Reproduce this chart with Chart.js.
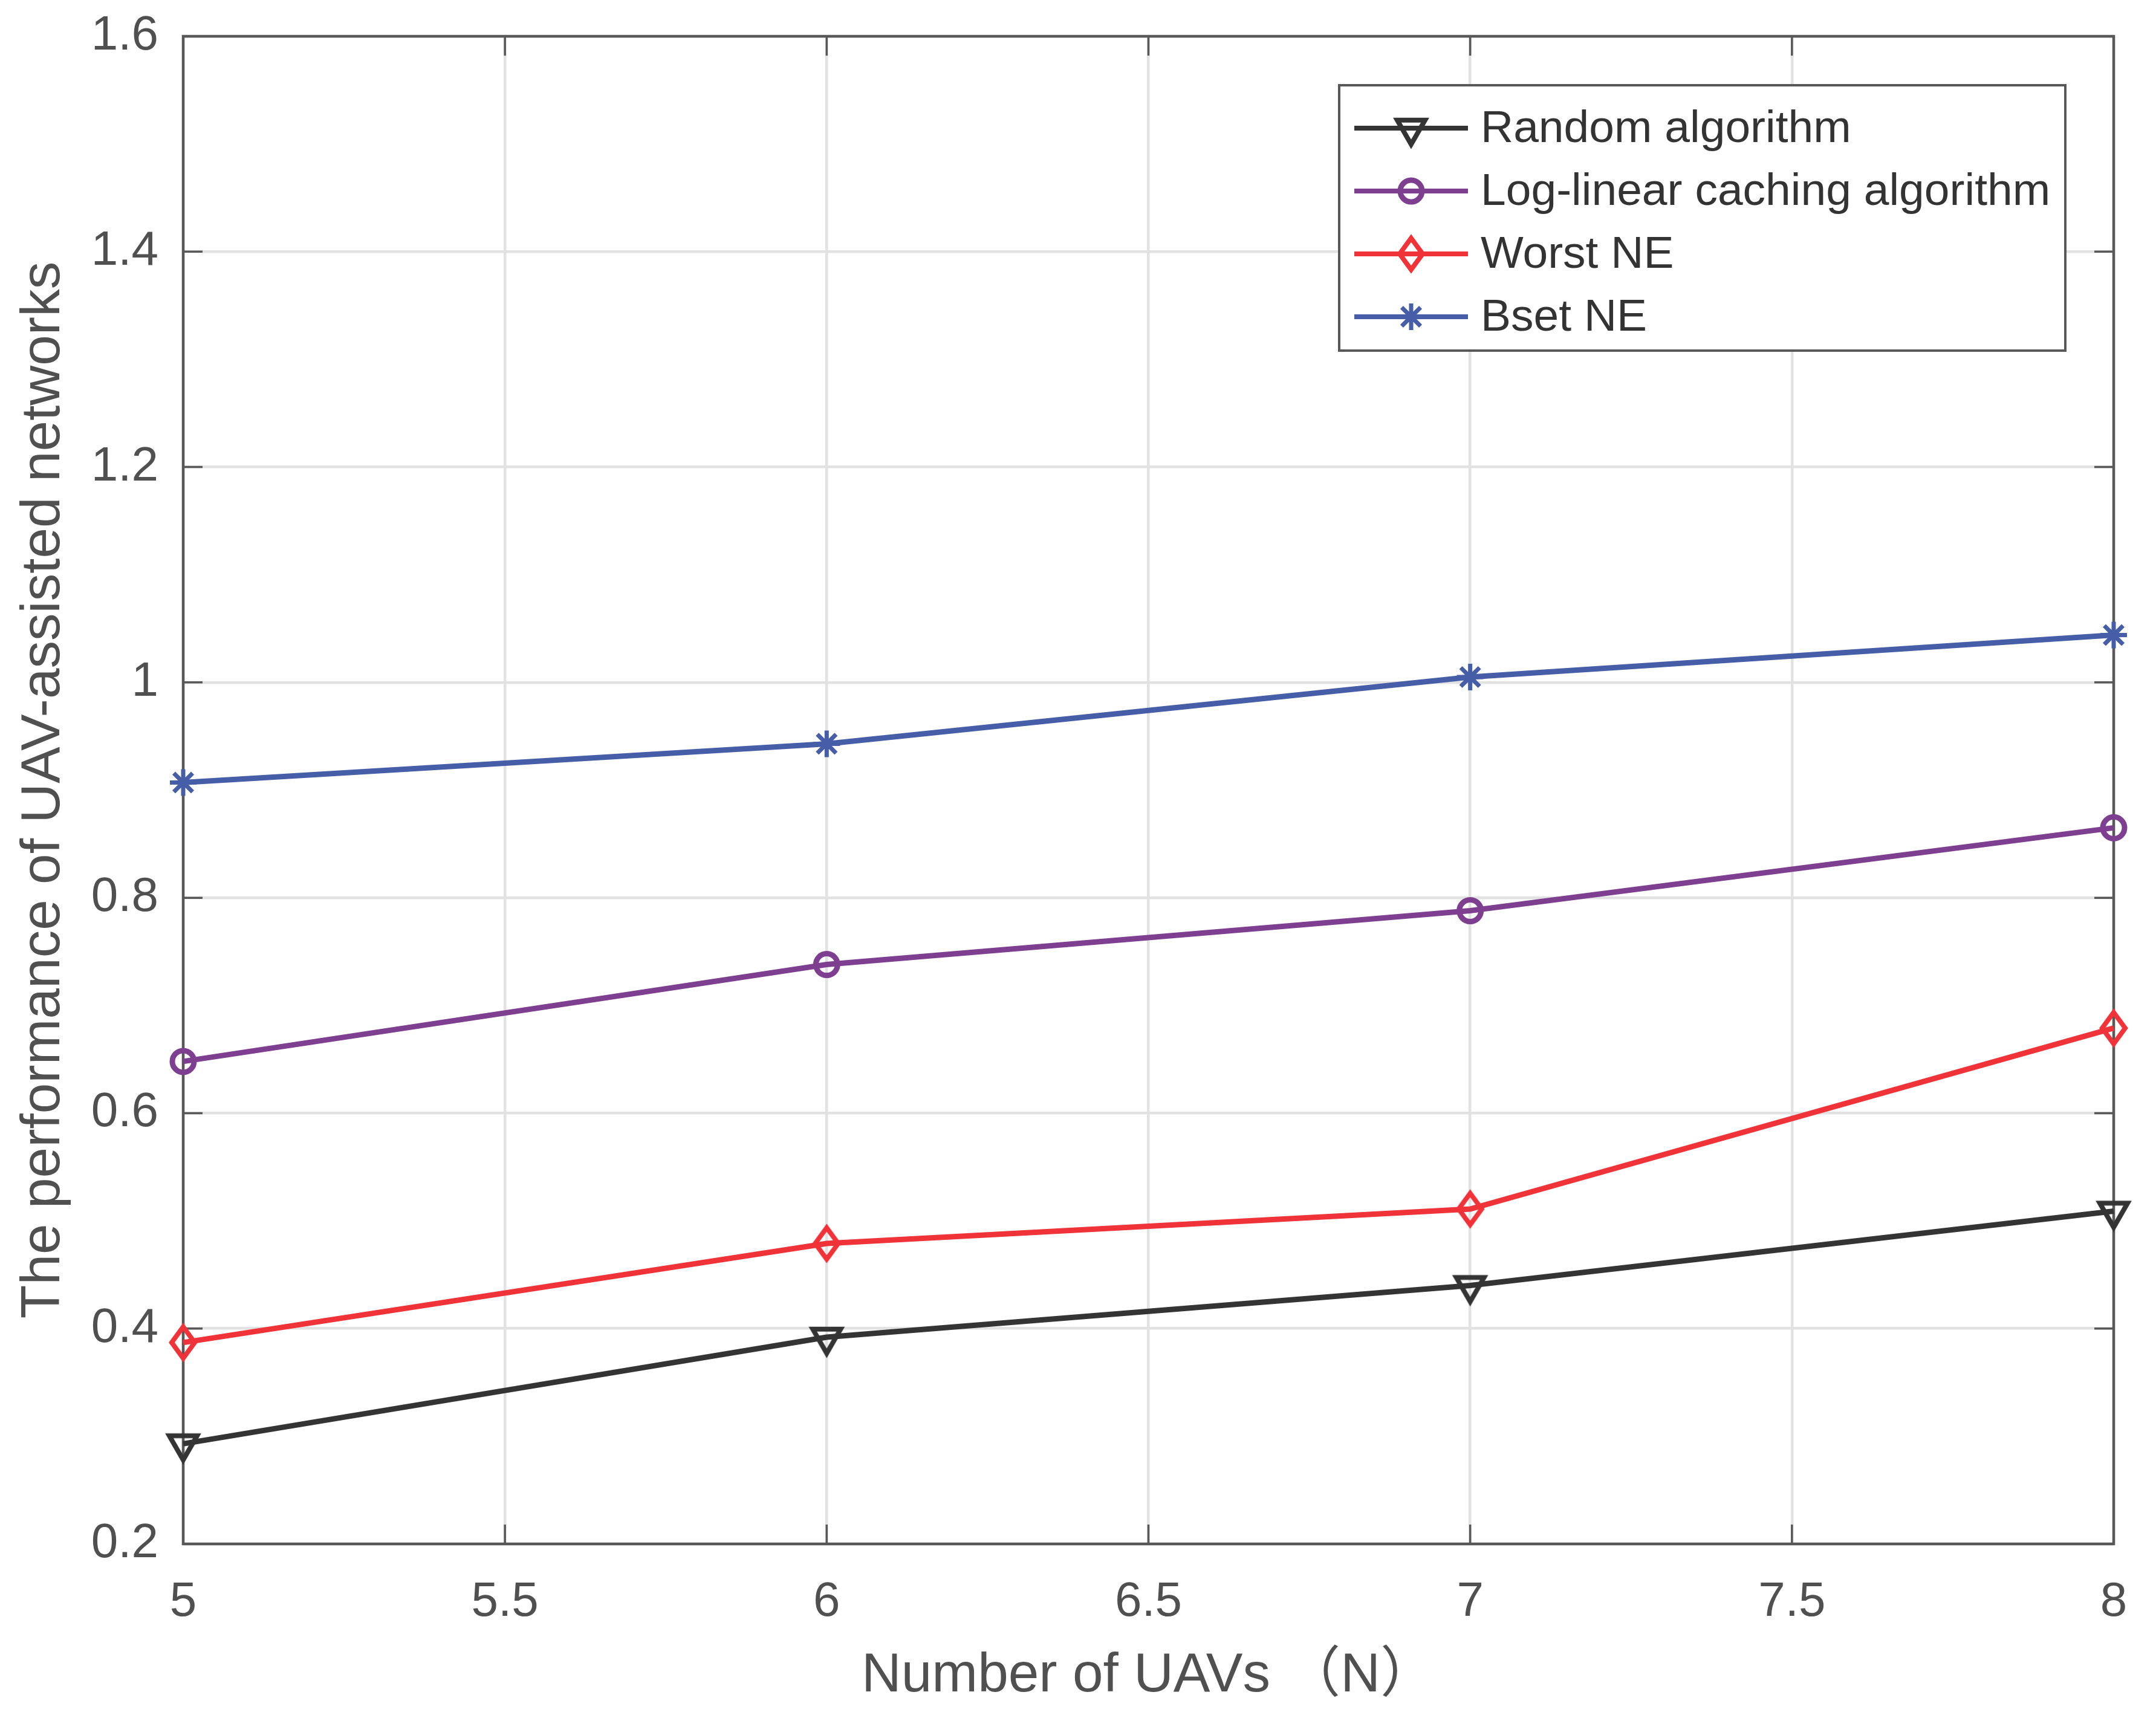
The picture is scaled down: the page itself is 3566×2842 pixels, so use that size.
<!DOCTYPE html>
<html>
<head>
<meta charset="utf-8">
<script src="https://cdn.jsdelivr.net/npm/chart.js@4.4.1/dist/chart.umd.min.js"></script>
<style>
  html, body { margin: 0; padding: 0; background: #fff; }
  canvas { display: block; }
</style>
</head>
<body>
<canvas id="uavChart" width="3566" height="2842" style="width:3566px;height:2842px"></canvas>
<script>
// values
const uavCounts = [5, 6, 7, 8];
const randomAlgorithm = [0.293, 0.392, 0.440, 0.509];
const logLinearCaching = [0.648, 0.738, 0.788, 0.865];
const worstNE = [0.387, 0.479, 0.511, 0.679];
const bestNE = [0.907, 0.943, 1.005, 1.044];

const xTickValues = [5, 5.5, 6, 6.5, 7, 7.5, 8];
const yTickValues = [0.2, 0.4, 0.6, 0.8, 1, 1.2, 1.4, 1.6];

const seriesNames = ['Random algorithm', 'Log-linear caching algorithm', 'Worst NE', 'Bset NE'];

const FONT = '"Liberation Sans", Arial, "Noto Sans CJK SC", sans-serif';

function makeMarker(kind, color) {
    const c = document.createElement('canvas');
    c.width = 90;
    c.height = 90;
    const g = c.getContext('2d');
    g.strokeStyle = color;
    g.lineWidth = 8;
    g.lineJoin = 'miter';
    g.translate(45, 45);
    g.beginPath();
    if (kind === 'down') {
        const w = 23, h = 40;
        g.moveTo(-w, -h / 3);
        g.lineTo(w, -h / 3);
        g.lineTo(0, 2 * h / 3);
    } else {
        g.moveTo(0, -26);
        g.lineTo(19, 0);
        g.lineTo(0, 26);
        g.lineTo(-19, 0);
    }
    g.closePath();
    g.stroke();
    return c;
}

const colors = ['#343434', '#7F3F91', '#EF3338', '#465DA8'];
const markers = [
    { pointStyle: makeMarker('down', colors[0]), radius: 20, width: 8 },
    { pointStyle: 'circle', radius: 18, width: 9 },
    { pointStyle: makeMarker('diamond', colors[2]), radius: 20, width: 8 },
    { pointStyle: 'star', radius: 22, width: 7 }
];

const toPoints = vals => uavCounts.map((n, i) => ({ x: n, y: vals[i] }));
const allSeries = [randomAlgorithm, logLinearCaching, worstNE, bestNE];

const datasets = allSeries.map((vals, i) => ({
    label: seriesNames[i],
    data: toPoints(vals),
    borderColor: colors[i],
    backgroundColor: colors[i],
    borderWidth: 9,
    pointStyle: markers[i].pointStyle,
    pointRadius: markers[i].radius,
    pointHoverRadius: markers[i].radius,
    pointBorderWidth: markers[i].width,
    pointBorderColor: colors[i],
    pointBackgroundColor: 'rgba(0,0,0,0)',
    tension: 0,
    fill: false,
    clip: false
}));

// matlab style box with inward ticks, under the lines
const axesBox = {
    id: 'axesBox',
    beforeDatasetsDraw(chart) {
        const { ctx, chartArea: a, scales } = chart;
        const len = 32;
        ctx.save();
        ctx.strokeStyle = '#585858';
        ctx.lineWidth = 3.5;
        ctx.beginPath();
        xTickValues.forEach(v => {
            const px = scales.x.getPixelForValue(v);
            ctx.moveTo(px, a.bottom); ctx.lineTo(px, a.bottom - len);
            ctx.moveTo(px, a.top); ctx.lineTo(px, a.top + len);
        });
        yTickValues.forEach(v => {
            const py = scales.y.getPixelForValue(v);
            ctx.moveTo(a.left, py); ctx.lineTo(a.left + len, py);
            ctx.moveTo(a.right, py); ctx.lineTo(a.right - len, py);
        });
        ctx.stroke();
        ctx.lineWidth = 4.5;
        ctx.strokeRect(a.left, a.top, a.right - a.left, a.bottom - a.top);
        ctx.restore();
    }
};

const boxLegend = {
    id: 'boxLegend',
    afterDraw(chart) {
        const { ctx } = chart;
        const left = 2215, top = 141, w = 1201, h = 439;
        const firstRow = 212, rowStep = 104;
        ctx.save();
        ctx.fillStyle = '#ffffff';
        ctx.fillRect(left, top, w, h);
        ctx.strokeStyle = '#585858';
        ctx.lineWidth = 4;
        ctx.strokeRect(left, top, w, h);
        chart.data.datasets.forEach((ds, i) => {
            const y = firstRow + i * rowStep;
            ctx.strokeStyle = ds.borderColor;
            ctx.lineWidth = 8;
            ctx.beginPath();
            ctx.moveTo(2240, y);
            ctx.lineTo(2428, y);
            ctx.stroke();
            ctx.fillStyle = 'rgba(0,0,0,0)';
            ctx.lineWidth = ds.pointBorderWidth;
            Chart.helpers.drawPoint(ctx, {
                pointStyle: ds.pointStyle,
                radius: ds.pointRadius,
                borderWidth: ds.pointBorderWidth,
                rotation: 0
            }, 2334, y);
            ctx.fillStyle = '#333333';
            ctx.font = '75px ' + FONT;
            ctx.textBaseline = 'middle';
            ctx.textAlign = 'left';
            ctx.fillText(ds.label, 2449, y + 2);
        });
        ctx.restore();
    }
};

new Chart(document.getElementById('uavChart'), {
    type: 'line',
    data: { datasets },
    options: {
        responsive: false,
        devicePixelRatio: 1,
        animation: false,
        layout: { padding: { top: 60, right: 70, left: 0, bottom: 0 } },
        plugins: {
            legend: { display: false },
            tooltip: { enabled: false }
        },
        scales: {
            x: {
                type: 'linear',
                min: 5,
                max: 8,
                afterBuildTicks: s => { s.ticks = xTickValues.map(v => ({ value: v })); },
                afterFit: s => {
                    s.height = 288;
                    s.paddingLeft = 0;
                    s.paddingRight = 0;
                },
                ticks: {
                    padding: 49,
                    color: '#505050',
                    font: { family: FONT, size: 80 },
                    callback: v => String(v)
                },
                grid: { color: '#e2e2e2', lineWidth: 4.5, drawTicks: false },
                border: { display: false },
                title: {
                    display: true,
                    text: 'Number of UAVs （N）',
                    color: '#505050',
                    font: { family: FONT, size: 91 },
                    padding: { top: 0, bottom: 14 }
                }
            },
            y: {
                type: 'linear',
                min: 0.2,
                max: 1.6,
                afterBuildTicks: s => { s.ticks = yTickValues.map(v => ({ value: v })); },
                afterFit: s => {
                    s.width = 303;
                    s.paddingTop = 0;
                    s.paddingBottom = 0;
                },
                ticks: {
                    padding: 41,
                    color: '#505050',
                    font: { family: FONT, size: 80 },
                    callback: v => String(v)
                },
                grid: { color: '#e2e2e2', lineWidth: 4.5, drawTicks: false },
                border: { display: false },
                title: {
                    display: true,
                    text: 'The performance of UAV-assisted networks',
                    color: '#505050',
                    font: { family: FONT, size: 91 },
                    padding: { top: 18, bottom: 0 }
                }
            }
        }
    },
    plugins: [axesBox, boxLegend]
});
</script>
</body>
</html>
